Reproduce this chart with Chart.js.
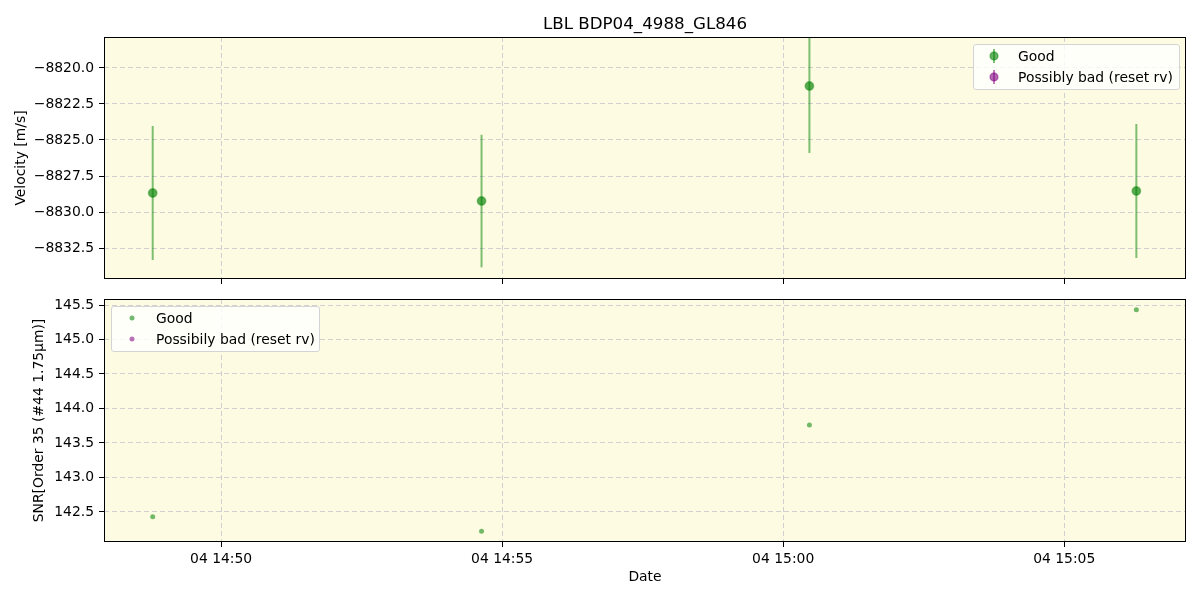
<!DOCTYPE html>
<html><head><meta charset="utf-8">
<script src="https://cdn.jsdelivr.net/npm/chart.js@4"></script>
<style>
body{margin:0;background:#fff;width:1200px;height:600px;position:relative;overflow:hidden;font-family:"DejaVu Sans",sans-serif;}
canvas{position:absolute;left:0;}
#c1{top:0;}
#c2{top:290px;}
.legend{position:absolute;background:rgba(255,255,255,0.8);border:1px solid #d4d4d4;border-radius:3px;box-sizing:border-box;font-size:13.9px;color:#000;}
.row{position:absolute;left:0;height:20px;line-height:20px;white-space:nowrap;}
.row svg{position:absolute;top:0;}
.row span{position:absolute;left:44px;top:0;}
</style></head><body>
<canvas id="c1" width="1200" height="290"></canvas>
<canvas id="c2" width="1200" height="310"></canvas>
<div class="legend" style="left:973px;top:44px;width:207px;height:46px;">
  <div class="row" style="top:1px;"><svg width="40" height="20" style="left:0"><line x1="20" y1="3" x2="20" y2="17" stroke="rgba(0,128,0,0.5)" stroke-width="2"/><circle cx="20" cy="10" r="4" fill="rgba(0,128,0,0.6)" stroke="rgba(0,128,0,0.4)" stroke-width="1.5"/></svg><span>Good</span></div>
  <div class="row" style="top:22px;"><svg width="40" height="20" style="left:0"><line x1="20" y1="3" x2="20" y2="17" stroke="rgba(128,0,128,0.5)" stroke-width="2"/><circle cx="20" cy="10" r="4" fill="rgba(128,0,128,0.6)" stroke="rgba(128,0,128,0.4)" stroke-width="1.5"/></svg><span>Possibly bad (reset rv)</span></div>
</div>
<div class="legend" style="left:111px;top:306px;width:209px;height:46px;">
  <div class="row" style="top:1px;"><svg width="40" height="20" style="left:0"><circle cx="20" cy="10" r="2.5" fill="rgba(0,128,0,0.55)"/></svg><span>Good</span></div>
  <div class="row" style="top:22px;"><svg width="40" height="20" style="left:0"><circle cx="20" cy="10" r="2.5" fill="rgba(128,0,128,0.55)"/></svg><span>Possibily bad (reset rv)</span></div>
</div>
<script>
// ---- data ----
const times = ["14:48:47", "14:54:38", "15:00:28", "15:06:17"];
const velocity = [-8828.68, -8829.24, -8821.25, -8828.54];
const velocityErr = [4.65, 4.6, 4.65, 4.65];
const snr = [142.43, 142.22, 143.76, 145.43];
const badTimes = [];
const badVelocity = [];
const badSnr = [];
const xRange = ["14:47:55", "15:07:10"];
const velRange = [-8834.65, -8817.85];
const snrRange = [142.065, 145.587];
const titleText = "LBL BDP04_4988_GL846";

function toMin(s){ const p = s.split(":").map(Number); return (p[0]-14)*60 + p[1] + (p[2]||0)/60; }
function fmtTime(v){ const tot = Math.round(v); const h = 14 + Math.floor(tot/60); const m = tot%60; return "04 " + String(h).padStart(2,"0") + ":" + String(m).padStart(2,"0"); }
const xs = times.map(toMin);
const FONT = "DejaVu Sans";
Chart.defaults.color = "#000";
Chart.defaults.font.family = FONT;

const framePlugin = {
  id: "frame",
  beforeDraw(chart){ const {ctx, chartArea:a} = chart; ctx.save(); ctx.fillStyle = "rgb(253,252,226)"; ctx.fillRect(a.left, a.top, a.width, a.height); ctx.restore(); },
  afterDraw(chart){ const {ctx, chartArea:a} = chart; ctx.save(); ctx.strokeStyle = "#000"; ctx.lineWidth = 1; ctx.strokeRect(Math.round(a.left)+0.5, Math.round(a.top)+0.5, Math.round(a.width)-1, Math.round(a.height)-1); ctx.restore(); }
};
const titlePlugin = {
  id: "axTitle",
  afterDraw(chart){ const {ctx, chartArea:a} = chart; ctx.save(); ctx.fillStyle = "#000"; ctx.font = "16.7px 'DejaVu Sans'"; ctx.textAlign = "center"; ctx.textBaseline = "alphabetic"; ctx.fillText(titleText, (a.left + a.right)/2, 29); ctx.restore(); }
};
const errPlugin = {
  id: "errbars",
  beforeDatasetsDraw(chart){
    const {ctx, chartArea:a} = chart; const xS = chart.scales.x, yS = chart.scales.y;
    ctx.save(); ctx.beginPath(); ctx.rect(a.left, a.top, a.width, a.height); ctx.clip();
    ctx.strokeStyle = "rgba(0,128,0,0.5)"; ctx.lineWidth = 2;
    xs.forEach((x, i) => {
      const px = xS.getPixelForValue(x);
      ctx.beginPath();
      ctx.moveTo(px, yS.getPixelForValue(velocity[i] + velocityErr[i]));
      ctx.lineTo(px, yS.getPixelForValue(velocity[i] - velocityErr[i]));
      ctx.stroke();
    });
    ctx.restore();
  }
};

function xAxis(showLabels, h){
  return {
    type: "linear", min: toMin(xRange[0]), max: toMin(xRange[1]),
    ticks: { display: showLabels, stepSize: 5, includeBounds: false, padding: 4, maxRotation: 0, autoSkip: false,
             font: {family: FONT, size: 13.9}, color: "#000", callback: v => fmtTime(v) },
    grid: { color: "#d0d0d0", lineWidth: 1, tickColor: "#000", tickLength: 5, drawTicks: true },
    border: { display: false, dash: [5, 3] },
    title: showLabels ? { display: true, text: "Date", font: {family: FONT, size: 13.9}, color: "#000", padding: {top: 0, bottom: 14.2} } : {display: false},
    afterFit(s){ s.height = h; s.paddingLeft = 0; s.paddingRight = 0; }
  };
}
function yAxis(range, step, dec, label, titlePad){
  return {
    min: range[0], max: range[1],
    ticks: { stepSize: step, includeBounds: false, padding: 5, font: {family: FONT, size: 13.9}, color: "#000",
             callback: v => v.toFixed(dec).replace("-", "\u2212") },
    grid: { color: "#d0d0d0", lineWidth: 1, tickColor: "#000", tickLength: 5 },
    border: { display: false, dash: [5, 3] },
    title: { display: true, text: label, font: {family: FONT, size: 13.9}, color: "#000", padding: {top: titlePad, bottom: 0} },
    afterFit(s){ s.width = 104; s.paddingTop = 0; s.paddingBottom = 0; }
  };
}

new Chart(document.getElementById("c1"), {
  type: "scatter",
  data: { datasets: [
    { label: "Good", data: xs.map((x, i) => ({x: x, y: velocity[i]})),
      backgroundColor: "rgba(0,128,0,0.65)", borderColor: "rgba(0,128,0,0.4)", borderWidth: 1.5, pointRadius: 4.2, pointHoverRadius: 4.2 },
    { label: "Possibly bad (reset rv)", data: badTimes.map((t, i) => ({x: toMin(t), y: badVelocity[i]})),
      backgroundColor: "rgba(128,0,128,0.6)", borderColor: "rgba(128,0,128,0.4)", pointRadius: 4 }
  ]},
  options: {
    responsive: false, animation: false, events: [],
    layout: { padding: {left: 0, right: 14, top: 37, bottom: 0} },
    plugins: { legend: {display: false}, tooltip: {enabled: false}, title: {display: false} },
    scales: { x: xAxis(false, 11), y: yAxis(velRange, 2.5, 1, "Velocity [m/s]", 12.7) }
  },
  plugins: [framePlugin, errPlugin, titlePlugin]
});

new Chart(document.getElementById("c2"), {
  type: "scatter",
  data: { datasets: [
    { label: "Good", data: xs.map((x, i) => ({x: x, y: snr[i]})),
      backgroundColor: "rgba(0,128,0,0.55)", borderWidth: 0, pointRadius: 2.5, pointHoverRadius: 2.5 },
    { label: "Possibily bad (reset rv)", data: badTimes.map((t, i) => ({x: toMin(t), y: badSnr[i]})),
      backgroundColor: "rgba(128,0,128,0.55)", borderWidth: 0, pointRadius: 2.5 }
  ]},
  options: {
    responsive: false, animation: false, events: [],
    layout: { padding: {left: 0, right: 14, top: 9, bottom: 0} },
    plugins: { legend: {display: false}, tooltip: {enabled: false} },
    scales: { x: xAxis(true, 58), y: yAxis(snrRange, 0.5, 1, "SNR[Order 35 (#44 1.75\u03bcm)]", 30.7) }
  },
  plugins: [framePlugin]
});
</script>
</body></html>
